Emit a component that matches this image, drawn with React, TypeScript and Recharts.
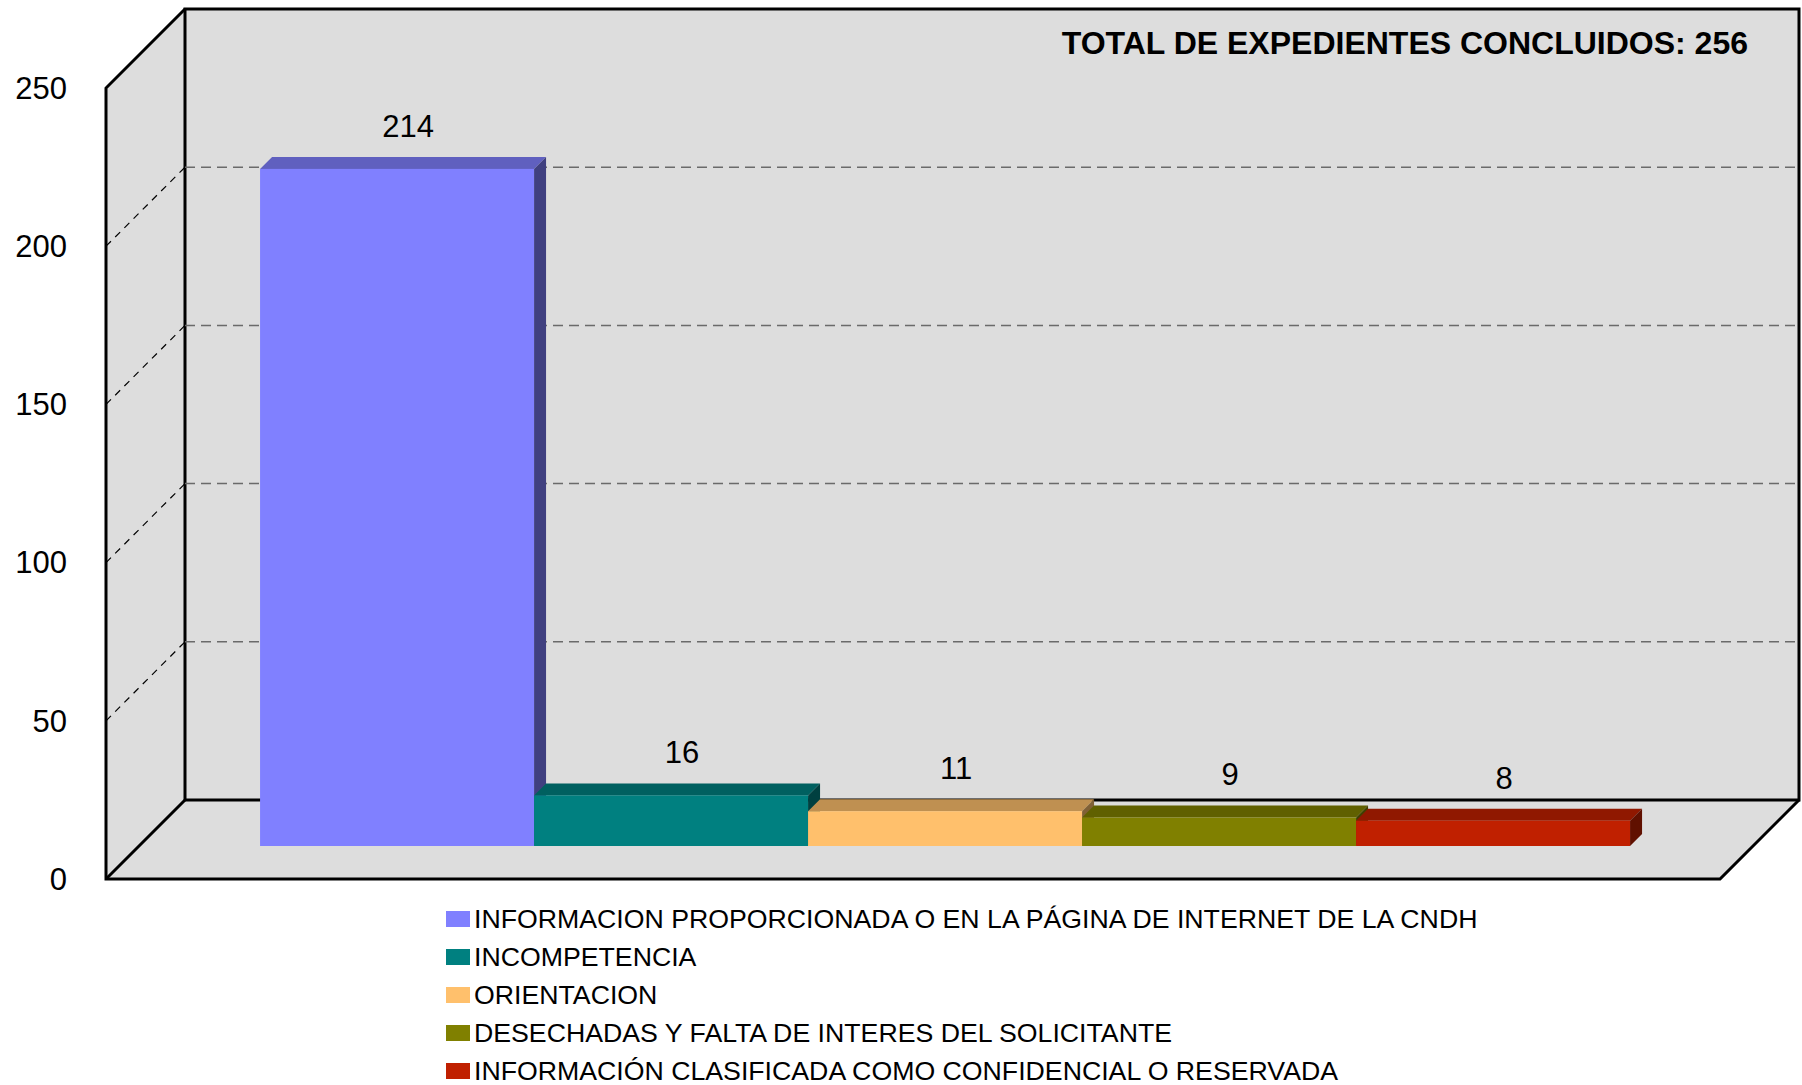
import React from "react";
import { BarChart, Bar, XAxis, YAxis, CartesianGrid } from "recharts";

const categories = ["EXPEDIENTES CONCLUIDOS"];
const seriesNames = [
  "INFORMACION PROPORCIONADA O EN LA PÁGINA DE INTERNET DE LA CNDH",
  "INCOMPETENCIA",
  "ORIENTACION",
  "DESECHADAS Y FALTA DE INTERES DEL SOLICITANTE",
  "INFORMACIÓN CLASIFICADA COMO CONFIDENCIAL O RESERVADA",
];
const seriesValues = [214, 16, 11, 9, 8];
const seriesColors = ["#8080FF", "#008080", "#FFC06C", "#808000", "#C02000"];
const yTicks = [0, 50, 100, 150, 200, 250];
const gridValues = [50, 100, 150, 200];
const totalText = "TOTAL DE EXPEDIENTES CONCLUIDOS: 256";

const data = categories.map((name) => {
  const row: { [key: string]: string | number } = { name };
  seriesValues.forEach((v, i) => {
    row[`s${i}`] = v;
  });
  return row;
});

// layout of the fake 3d box
const W = 1802;
const H = 1085;
const PLOT_LEFT = 185;
const PLOT_RIGHT = 1799;
const PLOT_TOP = 9;
const PLOT_BOTTOM = 800;
const DEPTH = 79; // floor depth
const BAR_SHIFT = 46; // bars stand in front of the back wall
const BAR_DEPTH = 12;
const FONT = "'Liberation Sans', Arial, sans-serif";
const WALL = "#DDDDDD";

const shade = (hex: string, f: number) => {
  const n = parseInt(hex.slice(1), 16);
  const r = Math.round(((n >> 16) & 255) * f);
  const g = Math.round(((n >> 8) & 255) * f);
  const b = Math.round((n & 255) * f);
  return `rgb(${r},${g},${b})`;
};

const makeShape = (color: string) => (props: any) => {
  const { x, y, width, height } = props;
  const fx = x - BAR_SHIFT;
  const fy = y + BAR_SHIFT;
  const d = BAR_DEPTH;
  return (
    <g>
      <polygon
        points={`${fx},${fy} ${fx + d},${fy - d} ${fx + width + d},${fy - d} ${fx + width},${fy}`}
        fill={shade(color, 0.75)}
      />
      <polygon
        points={`${fx + width},${fy} ${fx + width + d},${fy - d} ${fx + width + d},${fy + height - d} ${fx + width},${fy + height}`}
        fill={shade(color, 0.5)}
      />
      <rect x={fx} y={fy} width={width} height={height} fill={color} />
    </g>
  );
};

const renderLabel = (props: any) => {
  const { x, y, width, value } = props;
  return (
    <text
      x={x - BAR_SHIFT + width / 2 + 11}
      y={y + 3}
      dy="0.35em"
      textAnchor="middle"
      fontSize={31}
      fontFamily={FONT}
      fill="#000"
    >
      {value}
    </text>
  );
};

const renderTick = (props: any) => {
  const { y, payload } = props;
  return (
    <text
      x={67}
      y={y + DEPTH}
      dy="0.35em"
      textAnchor="end"
      fontSize={31}
      fontFamily={FONT}
      fill="#000"
    >
      {payload.value}
    </text>
  );
};

const Frame = () => {
  const yMax = yTicks[yTicks.length - 1];
  const yBack = (v: number) =>
    PLOT_BOTTOM - (v / yMax) * (PLOT_BOTTOM - PLOT_TOP);
  const fl = PLOT_LEFT - DEPTH;
  const fb = PLOT_BOTTOM + DEPTH;
  const ft = PLOT_TOP + DEPTH;
  const fr = PLOT_RIGHT - DEPTH;
  return (
    <svg
      width={W}
      height={H}
      style={{ position: "absolute", left: 0, top: 0 }}
    >
      <rect x={0} y={0} width={W} height={H} fill="#fff" />
      <polygon
        points={`${PLOT_LEFT},${PLOT_TOP} ${PLOT_RIGHT},${PLOT_TOP} ${PLOT_RIGHT},${PLOT_BOTTOM} ${PLOT_LEFT},${PLOT_BOTTOM}`}
        fill={WALL}
      />
      <polygon
        points={`${fl},${ft} ${PLOT_LEFT},${PLOT_TOP} ${PLOT_LEFT},${PLOT_BOTTOM} ${fl},${fb}`}
        fill={WALL}
      />
      <polygon
        points={`${fl},${fb} ${PLOT_LEFT},${PLOT_BOTTOM} ${PLOT_RIGHT},${PLOT_BOTTOM} ${fr},${fb}`}
        fill={WALL}
      />
      {gridValues.map((v) => (
        <line
          key={v}
          x1={fl}
          y1={yBack(v) + DEPTH}
          x2={PLOT_LEFT}
          y2={yBack(v)}
          stroke="#000"
          strokeWidth={1.2}
          strokeDasharray="7 6"
        />
      ))}
      <g stroke="#000" strokeWidth={3} fill="none" strokeLinejoin="miter">
        <polyline
          points={`${PLOT_LEFT},${PLOT_BOTTOM} ${PLOT_LEFT},${PLOT_TOP} ${PLOT_RIGHT},${PLOT_TOP} ${PLOT_RIGHT},${PLOT_BOTTOM} ${PLOT_LEFT},${PLOT_BOTTOM}`}
        />
        <polyline
          points={`${PLOT_LEFT},${PLOT_TOP} ${fl},${ft} ${fl},${fb} ${fr},${fb} ${PLOT_RIGHT},${PLOT_BOTTOM}`}
        />
        <line x1={fl} y1={fb} x2={PLOT_LEFT} y2={PLOT_BOTTOM} />
      </g>
      <text
        x={1748}
        y={43}
        dy="0.35em"
        textAnchor="end"
        fontSize={32}
        fontWeight="bold"
        fontFamily={FONT}
      >
        {totalText}
      </text>
      {seriesNames.map((name, i) => (
        <g key={name}>
          <rect
            x={446}
            y={919 + 38 * i - 8}
            width={24}
            height={16}
            fill={seriesColors[i]}
          />
          <text
            x={474}
            y={919 + 38 * i}
            dy="0.35em"
            fontSize={26.7}
            fontFamily={FONT}
          >
            {name}
          </text>
        </g>
      ))}
    </svg>
  );
};

export default function App() {
  return (
    <div
      style={{
        position: "absolute",
        left: 0,
        top: 0,
        width: W,
        height: H,
        background: "#fff",
      }}
    >
      <Frame />
      <div style={{ position: "absolute", left: 0, top: 0 }}>
        <BarChart
          width={W}
          height={H}
          data={data}
          margin={{ top: PLOT_TOP, right: W - PLOT_RIGHT, bottom: H - PLOT_BOTTOM, left: 0 }}
          barCategoryGap="7.5%"
          barGap={0}
        >
          <CartesianGrid
            vertical={false}
            horizontalValues={gridValues}
            stroke="#6a6a6a"
            strokeWidth={1.5}
            strokeDasharray="10 6"
          />
          <XAxis dataKey="name" hide />
          <YAxis
            width={PLOT_LEFT}
            domain={[0, 250]}
            ticks={yTicks}
            axisLine={false}
            tickLine={false}
            tick={renderTick}
          />
          {seriesNames.map((name, i) => (
            <Bar
              key={name}
              dataKey={`s${i}`}
              name={name}
              fill={seriesColors[i]}
              shape={makeShape(seriesColors[i])}
              label={renderLabel}
              isAnimationActive={false}
            />
          ))}
        </BarChart>
      </div>
    </div>
  );
}
